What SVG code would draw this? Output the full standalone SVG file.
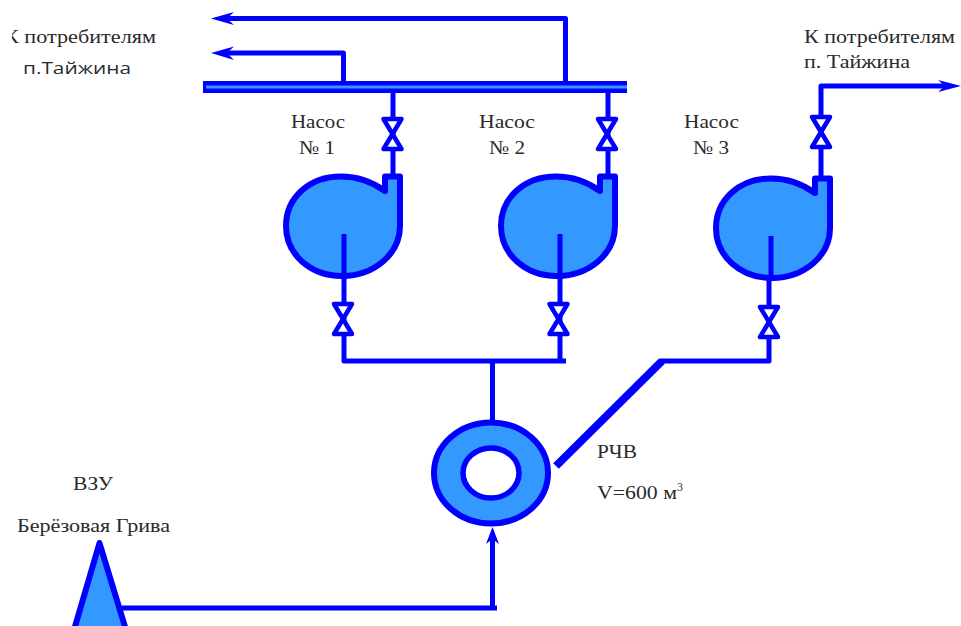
<svg xmlns="http://www.w3.org/2000/svg" width="961" height="626" viewBox="0 0 961 626">
<defs>
<style>
.p{fill:none;stroke:#0000ff;stroke-width:5;stroke-linejoin:round}
.t{font-family:"Liberation Serif",serif;font-size:19.5px;fill:#2a2a2a}
.f{fill:#3399ff;stroke:#0000ff;stroke-width:6;stroke-linejoin:round}
.v{fill:#fff;stroke:#0000ff;stroke-width:4.5;stroke-linejoin:round}
.a{fill:#0000ff}
</style>
<clipPath id="c"><rect x="12" y="0" width="300" height="100"/></clipPath>
<path id="pump" d="M385,191C371,181 356,176.500 341,176.500C309,176.500 286,198 286,226C286,254 310,276 342,276C374,276 400,254 400,226L400,176.500L385,176.500Z"/>
<path id="valve" d="M-9,-15H9L-9,15H9Z"/>
</defs>
<rect width="961" height="626" fill="#fff"/>
<g id="connectors">
<path class="p" d="M225,18.500H565.500V82"/>
<path class="p" d="M225,53H343.500V82"/>
<path class="a" d="M211,18.500L234,12L227,18.500L234,25Z"/>
<path class="a" d="M211,53L234,46.500L227,53L234,60Z"/>
<path class="p" d="M393,93V176M608,93V176M821,176V86H948"/>
<path class="a" d="M961,86L938,80L945,86L938,92Z"/>
<path class="p" d="M344,234V361H566M560,234V361M492.500,361V421M769,236V361H660"/>
<path d="M662,361L556,466" fill="none" stroke="#0000ff" stroke-width="8"/>
<path class="p" d="M122,608H497M492.500,608V535"/>
<path class="a" d="M492.500,527L499,544L492.500,539L486,544Z"/>
</g>
<g id="collector"><rect x="203" y="81" width="424" height="12" fill="#0000ff"/><rect x="206" y="85.500" width="421" height="3" fill="#3399ff"/></g>
<g id="pump1"><use href="#pump" class="f"/><path class="p" d="M344,234V276"/></g>
<g id="pump2"><use href="#pump" class="f" x="215"/><path class="p" d="M560,234V276"/></g>
<g id="pump3"><use href="#pump" class="f" x="430" y="2"/><path class="p" d="M771,236V278"/></g>
<g id="valves">
<use href="#valve" class="v" x="392.500" y="134"/>
<use href="#valve" class="v" x="607" y="134"/>
<use href="#valve" class="v" x="821" y="132"/>
<use href="#valve" class="v" x="343" y="319"/>
<use href="#valve" class="v" x="558.500" y="319"/>
<use href="#valve" class="v" x="769" y="322"/>
</g>
<g id="tank"><ellipse class="f" cx="491" cy="473" rx="57" ry="50.500"/><ellipse cx="491" cy="473" rx="28" ry="25" fill="#fff" stroke="#0000ff" stroke-width="5.500"/></g>
<g id="source"><path class="f" d="M99.500,543L126,630H74Z"/></g>
<g id="labels">
<text class="t" x="4" y="43" textLength="152" lengthAdjust="spacingAndGlyphs" clip-path="url(#c)">К потребителям</text>
<text x="23" y="74" textLength="108" lengthAdjust="spacingAndGlyphs" style="font-family:'Open Sans',sans-serif;font-size:17px;fill:#2a2a2a">п.Тайжина</text>
<text class="t" x="804" y="43" textLength="151" lengthAdjust="spacingAndGlyphs">К потребителям</text>
<text class="t" x="804" y="68" textLength="106" lengthAdjust="spacingAndGlyphs">п. Тайжина</text>
<text class="t" x="291" y="128" textLength="54" lengthAdjust="spacingAndGlyphs">Насос</text><text class="t" x="299" y="154" textLength="36" lengthAdjust="spacingAndGlyphs">№ 1</text>
<text class="t" x="479" y="128" textLength="56" lengthAdjust="spacingAndGlyphs">Насос</text><text class="t" x="489" y="154" textLength="36" lengthAdjust="spacingAndGlyphs">№ 2</text>
<text class="t" x="684" y="128" textLength="55" lengthAdjust="spacingAndGlyphs">Насос</text><text class="t" x="693" y="154" textLength="36" lengthAdjust="spacingAndGlyphs">№ 3</text>
<text class="t" x="73" y="490" textLength="40" lengthAdjust="spacingAndGlyphs">ВЗУ</text>
<text class="t" x="17" y="532" textLength="153" lengthAdjust="spacingAndGlyphs">Берёзовая Грива</text>
<text class="t" x="597" y="458" textLength="40" lengthAdjust="spacingAndGlyphs">РЧВ</text>
<text class="t" x="597" y="499" textLength="80" lengthAdjust="spacingAndGlyphs">V=600 м</text>
<text class="t" x="677" y="491" style="font-size:12px">3</text>
</g>
</svg>
